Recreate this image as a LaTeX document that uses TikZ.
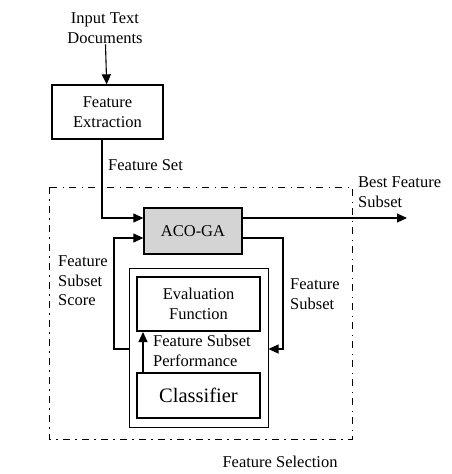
\documentclass[tikz,border=0pt]{standalone}
\usepackage{fontspec}
\setmainfont{Liberation Serif}
\usetikzlibrary{arrows.meta}

\tikzset{
  txt/.style={font=\fontsize{16.5}{19.5}\selectfont, inner sep=1pt},
  blk/.style={draw, line width=1.3pt, align=center, inner sep=0pt},
  thk/.style={draw, line width=2pt, align=center, inner sep=0pt},
  arr/.style={line width=1.1pt, -{Triangle[length=10pt,width=9pt]}},
  ln/.style={line width=1.1pt}
}

\begin{document}
\begin{tikzpicture}[x=1pt, y=-1pt, txt]
    \useasboundingbox (0,0) rectangle (452,474);

    % Eingang
    \node[align=center] (input) at (105,28) {Input Text\\Documents};
    \node[blk, minimum width=111pt, minimum height=54pt] (fe) at (107.5,112) {Feature\\Extraction};
    \draw[arr] (input) -- (fe);
    \node[anchor=west] (fs) at (107,165) {Feature Set};

    % Feature Selection Rahmen
    \draw[line width=1pt, dash pattern=on 7pt off 5pt on 1.5pt off 5.5pt] (49,187) rectangle (352,439);
    \node (selname) at (280,462) {Feature Selection};

    % ACO-GA
    \node[blk, fill=black!17, minimum width=98pt, minimum height=46pt] (aco) at (193,231) {ACO-GA};
    \coordinate (out) at (407,218);
    \draw[arr] ([xshift=-5.5pt]fe.south) |- ([yshift=13pt]aco.west);
    \draw[arr] ([yshift=13pt]aco.east) -- (out);
    \node[anchor=west, align=left] (best) at (357,192) {Best Feature\\Subset};

    % Bewertung
    \node[draw, line width=1pt, minimum width=139pt, minimum height=159pt] (cont) at (198.5,347.5) {};
    \node[thk, minimum width=123pt, minimum height=54pt] (ev) at (198.5,304) {Evaluation\\Function};
    \node[thk, minimum width=123pt, minimum height=45pt, font=\fontsize{20.5}{24}\selectfont] (cl) at (198.5,395.5) {Classifier};
    \draw[arr] ([xshift=-55.5pt]cl.north) -- ([xshift=-55.5pt]ev.south);
    \node[anchor=west, align=left] (perf) at (152,351) {Feature Subset\\Performance};

    % Rueckkopplung
    \coordinate (rfb) at (283,349);
    \coordinate (lfb) at (114,349);
    \draw[arr] ([yshift=-7pt]aco.east) -| (rfb) -- (cont.east |- rfb);
    \draw[arr] (cont.west |- lfb) -- (lfb) |- ([yshift=-7pt]aco.west);
    \node[anchor=west, align=left] (score) at (57,281) {Feature\\Subset\\Score};
    \node[anchor=west, align=left] (sub) at (289,294) {Feature\\Subset};
\end{tikzpicture}
\end{document}
